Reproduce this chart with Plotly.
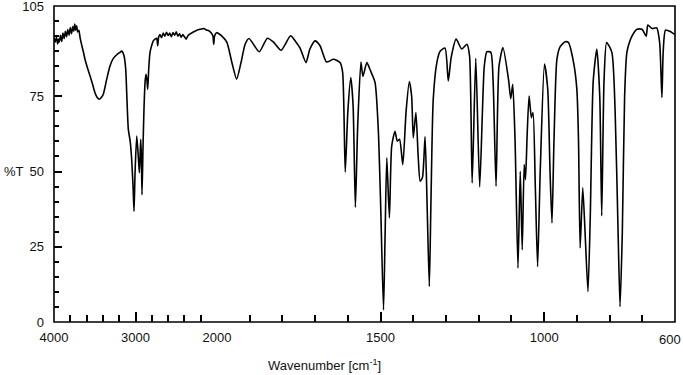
import plotly.graph_objects as go

# IR spectrum (wavenumber in cm-1, transmittance in %T)
wavenumber = [
    4000, 3985, 3970, 3955, 3945, 3935, 3920, 3905, 3890, 3875, 3860, 3845, 3830, 3815, 3800,
    3785, 3770, 3758, 3745, 3735, 3722, 3710, 3695, 3680, 3660, 3640, 3620, 3590, 3558, 3525,
    3497, 3470, 3444, 3420, 3395, 3353, 3313, 3272, 3230, 3190, 3169, 3141, 3120, 3108, 3088,
    3065, 3047, 3030, 3018, 3005, 2985, 2968, 2953, 2944, 2936, 2928, 2920, 2908, 2896, 2882,
    2871, 2860, 2850, 2838, 2822, 2800, 2782, 2760, 2740, 2728, 2715, 2700, 2680, 2660, 2640,
    2620, 2600, 2580, 2560, 2540, 2520, 2500, 2480, 2460, 2440, 2420, 2400, 2380, 2360, 2340,
    2300, 2260, 2220, 2180, 2160, 2130, 2100, 2070, 2050, 2040, 2030, 2010, 2000,
    1985, 1970, 1954, 1940, 1927, 1914, 1902, 1871, 1846, 1828, 1804, 1775, 1761, 1746, 1728,
    1716, 1700, 1685, 1665, 1644, 1624, 1616, 1608, 1600, 1591, 1584, 1577, 1570, 1560, 1554,
    1542, 1532, 1517, 1507, 1500, 1491, 1486, 1481, 1473, 1466, 1456, 1449, 1442, 1432, 1422,
    1412, 1405, 1400, 1392, 1385, 1379, 1372, 1364, 1358, 1351, 1346, 1339, 1328, 1318, 1303,
    1293, 1284, 1269, 1252, 1236, 1228, 1220, 1209, 1197, 1183, 1175, 1163, 1156, 1147, 1138,
    1126, 1109, 1102, 1096, 1089, 1080, 1073, 1067, 1061, 1057, 1052, 1046, 1039, 1034, 1027,
    1020, 1012, 999, 989, 982, 976, 970, 961, 951, 936, 926, 910, 900, 895, 890,
    882, 875, 866, 859, 850, 839, 830, 824, 817, 809, 793, 783, 774, 768, 761,
    754, 747, 732, 716, 701, 688, 683, 670, 656, 647, 640, 636, 629, 614, 603, 600,
]
transmittance = [
    94.5, 93.0, 94.6, 92.4, 94.0, 93.0, 95.3, 93.2, 96.0, 94.2, 96.6, 94.8, 97.2, 95.3, 97.8,
    95.8, 98.2, 96.6, 99.0, 97.0, 98.4, 96.4, 96.9, 94.5, 92.0, 89.8, 87.3, 84.5, 81.8, 78.8,
    76.2, 74.6, 74.0, 74.6, 75.7, 80.7, 85.1, 87.6, 88.8, 89.6, 90.0, 88.5, 84.0, 76.2, 64.0,
    60.0, 54.0, 45.0, 36.8, 50.0, 61.8, 56.0, 49.6, 55.0, 60.7, 55.0, 42.3, 58.0, 70.7, 80.0,
    82.3, 80.5, 77.3, 84.0, 89.6, 92.0, 93.4, 94.0, 94.3, 91.8, 94.8, 95.5, 94.5, 96.0, 95.0,
    96.3, 95.2, 96.0, 94.8, 96.2, 95.3, 96.4, 95.0, 95.8, 94.6, 95.5, 94.8, 94.0, 95.0, 95.6,
    96.2, 96.8, 97.2, 97.4, 97.5, 97.0, 96.8, 96.0, 95.0, 92.3, 95.0, 96.0, 96.2,
    95.0, 93.0, 86.0, 80.7, 86.0, 92.3, 94.2, 89.8, 94.3, 93.1, 90.3, 95.1, 93.4, 91.0, 86.2,
    90.7, 93.4, 91.8, 86.4, 87.3, 86.2, 83.0, 49.8, 70.0, 81.2, 72.0, 38.1, 65.0, 86.4, 81.6,
    86.2, 83.8, 79.6, 64.0, 40.0, 4.0, 30.0, 54.6, 34.6, 58.4, 63.4, 60.1, 60.7, 52.3, 70.0,
    79.9, 75.0, 61.2, 69.6, 55.0, 46.8, 48.0, 61.6, 40.0, 11.8, 40.0, 74.0, 86.2, 90.0, 91.0,
    80.1, 88.0, 94.0, 90.7, 92.3, 88.4, 46.2, 87.6, 44.9, 85.0, 89.8, 89.6, 80.0, 45.1, 85.0,
    91.2, 80.7, 74.2, 79.0, 60.7, 17.9, 50.1, 24.0, 52.3, 47.3, 62.0, 75.1, 67.9, 69.6, 45.0,
    18.4, 50.0, 85.7, 77.3, 50.0, 32.9, 60.0, 87.3, 91.5, 93.1, 92.9, 86.2, 77.3, 60.7, 24.6,
    44.6, 30.0, 10.1, 35.0, 80.0, 90.7, 75.0, 35.3, 80.0, 92.9, 89.6, 70.0, 30.0, 5.1, 30.0,
    75.0, 89.6, 94.9, 97.3, 97.3, 95.0, 98.7, 97.5, 97.7, 93.0, 74.6, 90.0, 97.0, 96.5, 95.7, 95.7,
]

# axis tick labels
y_tick_values = [0, 25, 50, 75, 105]
x_high_ticks = [4000, 3000, 2000]
x_low_ticks = [1500, 1000]
x_end_label = 600

BREAK = 2000  # scale change of the wavenumber axis
hi_x = [w for w in wavenumber if w >= BREAK]
hi_y = [t for w, t in zip(wavenumber, transmittance) if w >= BREAK]
lo_x = [w for w in wavenumber if w <= BREAK]
lo_y = [t for w, t in zip(wavenumber, transmittance) if w <= BREAK]

FONT = "Liberation Sans, Arial, Helvetica, sans-serif"
TXT = "#111111"
line = dict(color="#000000", width=1.6, shape="spline", smoothing=0.6)

fig = go.Figure()
fig.add_trace(go.Scatter(x=hi_x, y=hi_y, mode="lines", line=line, xaxis="x", yaxis="y",
                         showlegend=False, hoverinfo="skip"))
fig.add_trace(go.Scatter(x=lo_x, y=lo_y, mode="lines", line=line, xaxis="x2", yaxis="y",
                         showlegend=False, hoverinfo="skip"))

split = 163 / 621
tickfont = dict(family=FONT, size=13, color=TXT)

fig.update_layout(
    width=683, height=375,
    margin=dict(l=54, r=8, t=6, b=53, autoexpand=False),
    paper_bgcolor="white", plot_bgcolor="white",
    xaxis=dict(domain=[0, split], range=[4000, 2000], anchor="y", automargin=False,
               tickmode="array", tickvals=x_high_ticks, ticktext=[str(v) for v in x_high_ticks],
               ticks="inside", ticklen=10, tickwidth=1.5, tickcolor="#000", ticklabelstandoff=6,
               ticklabeloverflow="allow",
               minor=dict(tickmode="array", tickvals=list(range(2200, 4000, 200)),
                          ticks="inside", ticklen=7, tickwidth=1.5, tickcolor="#000"),
               showgrid=False, zeroline=False, showline=False, tickfont=tickfont),
    xaxis2=dict(domain=[split, 1], range=[2000, 600], anchor="y", automargin=False,
                tickmode="array", tickvals=x_low_ticks, ticktext=[str(v) for v in x_low_ticks],
                ticks="inside", ticklen=10, tickwidth=1.5, tickcolor="#000", ticklabelstandoff=6,
                ticklabeloverflow="allow",
                minor=dict(tickmode="array", tickvals=list(range(700, 2000, 100)),
                           ticks="inside", ticklen=7, tickwidth=1.5, tickcolor="#000"),
                showgrid=False, zeroline=False, showline=False, tickfont=tickfont),
    yaxis=dict(range=[0, 105.001], anchor="x", automargin=False,
               tickmode="array", tickvals=y_tick_values, ticktext=[str(v) for v in y_tick_values],
               ticks="inside", ticklen=8, tickwidth=1.5, tickcolor="#000", ticklabelstandoff=9,
               ticklabeloverflow="allow",
               minor=dict(tickmode="array", tickvals=list(range(5, 105, 5)),
                          ticks="inside", ticklen=5, tickwidth=1.5, tickcolor="#000"),
               showgrid=False, zeroline=False, showline=False, tickfont=tickfont),
    shapes=[dict(type="rect", xref="paper", yref="paper", x0=0, x1=1, y0=0, y1=1,
                 line=dict(color="#000", width=1.6), fillcolor="rgba(0,0,0,0)")],
    annotations=[
        dict(text="%T", xref="paper", yref="y", x=0, y=50, xanchor="right", yanchor="middle",
             xshift=-28, showarrow=False, font=dict(family=FONT, size=13, color=TXT)),
        dict(text=str(x_end_label), xref="x2", yref="paper", x=x_end_label, y=-(339 - 322) / 316,
             xanchor="right", yanchor="middle", xshift=8, showarrow=False,
             font=dict(family=FONT, size=13, color=TXT)),
        dict(text="Wavenumber [cm<sup>-1</sup>]", xref="paper", yref="paper",
             x=(324 - 54) / 621, y=-(365 - 322) / 316, xanchor="center", yanchor="middle",
             showarrow=False, font=dict(family=FONT, size=13, color=TXT)),
    ],
)

fig.write_html("out.html", config={"displayModeBar": False},
               post_script="document.body.style.margin='0';")
